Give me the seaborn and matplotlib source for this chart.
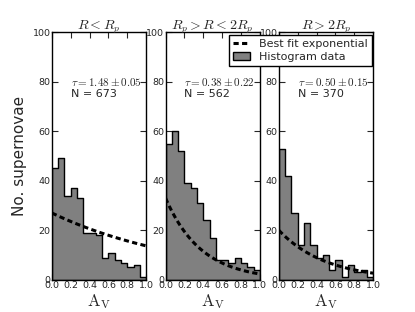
import numpy as np
import pandas as pd
import seaborn as sns
import matplotlib.pyplot as plt

# 15 bins on 0-1, values are counts per bin
nbins = 15
centers = (np.arange(nbins) + 0.5) / nbins

counts_inner = [45, 49, 34, 37, 33, 19, 19, 18, 9, 11, 8, 7, 5, 6, 1]
counts_mid = [55, 60, 52, 39, 37, 31, 24, 17, 8, 8, 7, 9, 7, 5, 4]
counts_outer = [53, 42, 27, 14, 23, 14, 9, 10, 4, 8, 1, 6, 3, 4, 1]

titles = [r"$R < R_p$", r"$R_p > R < 2R_p$", r"$R > 2R_p$"]
taus = [1.48, 0.38, 0.50]
tau_errs = [0.05, 0.22, 0.15]
amps = [27.0, 33.0, 20.0]
n_sn = [673, 562, 370]

sns.set_style("ticks")
plt.rcParams['font.family'] = ['DejaVu Sans']
plt.rcParams['mathtext.fontset'] = 'cm'
plt.rcParams['xtick.direction'] = 'in'
plt.rcParams['ytick.direction'] = 'in'

fig = plt.figure(figsize=(4.15, 3.12), dpi=100)
lefts = [0.125, 0.399, 0.672]
xfit = np.linspace(0, 1, 100)

for i, counts in enumerate([counts_inner, counts_mid, counts_outer]):
    ax = fig.add_axes([lefts[i], 0.103, 0.227, 0.794])
    df = pd.DataFrame({'Av': centers, 'n': counts})
    sns.histplot(data=df, x='Av', weights='n', bins=nbins, binrange=(0, 1),
                 element='step', fill=True, color='#808080', alpha=1,
                 edgecolor='black', linewidth=1, ax=ax, label='Histogram data')
    fit = pd.DataFrame({'x': xfit, 'y': amps[i] * np.exp(-xfit / taus[i])})
    sns.lineplot(data=fit, x='x', y='y', ax=ax, color='black', lw=2.2,
                 linestyle=(0, (1.7, 1.1)), label='Best fit exponential')
    ax.set_xlim(0, 1)
    ax.set_ylim(0, 100)
    ax.set_xticks(np.arange(0, 1.01, 0.2))
    ax.set_yticks(np.arange(0, 101, 20))
    ax.tick_params(labelsize=6.8, top=True, right=True, length=4, width=0.8, pad=1)
    for s in ax.spines.values():
        s.set_linewidth(1)
        s.set_color('black')
    ax.set_title(titles[i], fontsize=10, pad=2)
    ax.set_xlabel(r"$\mathrm{A_V}$", fontsize=12, labelpad=1)
    if i == 0:
        ax.set_ylabel("No. supernovae", fontsize=11)
    else:
        ax.set_ylabel("")
    ax.text(0.2, 80, r"$\tau = %.2f \pm %.2f$" % (taus[i], tau_errs[i]),
            fontsize=8, va='center')
    ax.text(0.2, 75, "N = %d" % n_sn[i], fontsize=8, va='center')
    handles, labels = ax.get_legend_handles_labels()
    if ax.get_legend():
        ax.get_legend().remove()

leg = fig.legend(handles[::-1], labels[::-1], loc='upper right',
                 bbox_to_anchor=(0.896, 0.888), fontsize=8, fancybox=False,
                 framealpha=1, edgecolor='black', handlelength=1.6,
                 handletextpad=0.8, borderpad=0.35, labelspacing=0.3,
                 borderaxespad=0)
leg.get_frame().set_linewidth(1)

plt.savefig('out.png', dpi=100)
